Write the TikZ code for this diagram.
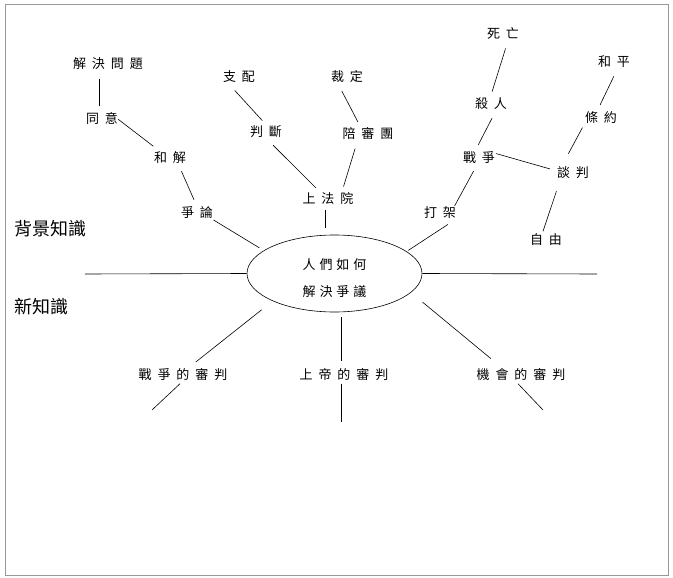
\documentclass[tikz,border=0pt]{standalone}
\usepackage{fontspec}
\usetikzlibrary{shapes.geometric}
\newfontfamily\cjk[LetterSpace=46]{Noto Sans CJK TC}
\newfontfamily\cjkc[LetterSpace=30]{Noto Sans CJK TC}
\newfontfamily\cjkb{Noto Sans CJK TC}

\begin{document}
\begin{tikzpicture}[x=1pt, y=-1pt,
  wire/.style={line width=0.6pt},
  link/.style={wire, shorten <=5pt, shorten >=5pt},
  word/.style={font=\cjk\fontsize{13}{15}\selectfont, inner sep=2pt,
    text height=10.5pt, text depth=2.5pt, execute at end node={\hspace{-6pt}}},
  side/.style={font=\cjkb\fontsize{18}{20}\selectfont, inner sep=0pt},
  hub/.style={draw, line width=0.6pt, ellipse, minimum width=175pt, minimum height=77pt,
    inner sep=0pt, align=center, font=\cjkc\fontsize{13}{27}\selectfont,
    text height=48.8pt, text depth=2pt}]
\useasboundingbox (0,0) rectangle (673,578);
\draw[gray!80, line width=1pt] (5,5) rectangle (668,575);
% centre
\node[hub] (core) at (334.5,273.5) {人們如何\\解決爭議};
\node[side] (bg) at (51,229) {背景知識};
\node[side] (xin) at (42,307) {新知識};
\coordinate (leftend) at (85,274);
\coordinate (rightend) at (597,274);
\draw[wire] (core.west) -- (leftend);
\draw[wire] (core.east) -- (rightend);
% argue
\node[word] (jjwt) at (105,65) {解決問題};
\node[word] (tongyi) at (99,120) {同意};
\node[word] (hejie) at (167,158) {和解};
\node[word] (zhenglun) at (194,213) {爭論};
\draw[link] (jjwt.south -| tongyi) -- (tongyi.north);
\draw[link] (tongyi.14) -- (hejie.138);
\draw[link] (hejie.-35) -- (zhenglun.77);
\draw[link] (zhenglun.-16) -- (core.162);
% court
\node[word] (zhipei) at (236,78) {支配};
\node[word] (panduan) at (263,133) {判斷};
\node[word] (caiding) at (344,78) {裁定};
\node[word] (peishen) at (365,135) {陪審團};
\node[word] (shangfa) at (325,200) {上法院};
\draw[link] (zhipei.-118) -- (panduan.73);
\draw[link] (panduan.-53) -- (shangfa.123);
\draw[link] (caiding.-117) -- (peishen.119);
\draw[link] (peishen.-134) -- (shangfa.27);
\draw[link, shorten <=1pt, shorten >=7pt] (shangfa.south) -- (shangfa.south |- core.north);
% fight
\node[word] (dajia) at (437,213) {打架};
\node[word] (zhanzheng) at (476,158) {戰爭};
\node[word] (sharen) at (488,105) {殺人};
\node[word] (siwang) at (500,35) {死亡};
\node[word] (tanpan) at (570,173) {談判};
\node[word] (tiaoyue) at (598,118) {條約};
\node[word] (heping) at (611,63) {和平};
\node[word] (ziyou) at (543,240) {自由};
\draw[link, shorten <=2pt] (core.17) -- (dajia.-30);
\draw[link] (dajia.10) -- (zhanzheng.south);
\draw[link] (zhanzheng.north) -- (sharen.-54);
\draw[link] (sharen.73) -- (siwang.-51);
\draw[link] (zhanzheng.21) -- (tanpan.170);
\draw[link, shorten <=12pt, shorten >=1pt] (tanpan.130) -- (tiaoyue.-150);
\draw[link] (tiaoyue.north) -- (heping.-60);
\draw[link, shorten <=10pt, shorten >=0pt] (tanpan.-140) -- (ziyou.north);
% trials
\node[word] (zzsp) at (180,375) {戰爭的審判};
\node[word] (sdsp) at (341,375) {上帝的審判};
\node[word] (jhsp) at (518,375) {機會的審判};
\coordinate (zzspend) at (152,410);
\coordinate (sdspend) at (341,422);
\coordinate (jhspend) at (543,410);
\draw[link, shorten <=14pt, shorten >=7pt] (core.-156) -- (zzsp.40);
\draw[wire] (zzsp.south) -- (zzspend);
\draw[link] (sdsp.north |- core.south) -- (sdsp.north);
\draw[wire] (sdsp.south) -- (sdspend);
\draw[link, shorten <=15pt, shorten >=12pt] (core.-14) -- (jhsp.154);
\draw[wire] (jhsp.south) -- (jhspend);
\end{tikzpicture}
\end{document}
